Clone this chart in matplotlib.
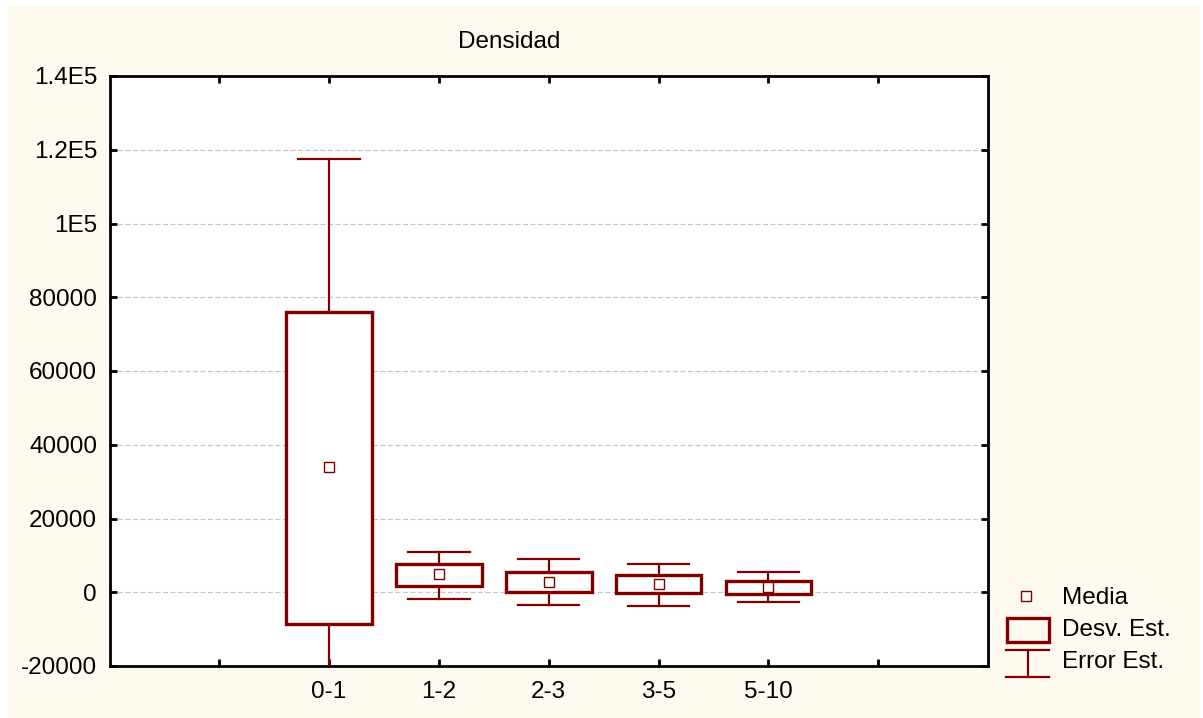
import matplotlib
matplotlib.use("Agg")
import matplotlib.pyplot as plt
from matplotlib.patches import Rectangle
from matplotlib.lines import Line2D

plt.rcParams['font.family'] = ['Liberation Sans', 'DejaVu Sans']

# data
categories = ["0-1", "1-2", "2-3", "3-5", "5-10"]
means = [34000, 5000, 2800, 2150, 1400]
box_low = [-8600, 1800, 0, -300, -550]
box_high = [76100, 7600, 5600, 4600, 3150]
whisk_low = [-49400, -1900, -3450, -3650, -2700]
whisk_high = [117400, 10900, 8950, 7700, 5600]

y_ticks = [-20000, 0, 20000, 40000, 60000, 80000, 100000, 120000, 140000]
y_labels = ["-20000", "0", "20000", "40000", "60000", "80000", "1E5", "1.2E5", "1.4E5"]

W, H = 1203, 718
red = "#800000"
cream = "#fefaef"
fs = 17.5

fig = plt.figure(figsize=(W / 100, H / 100), dpi=100)
fig.patch.set_facecolor("white")


def fx(px):
    return px / W


def fy(py):
    return 1 - py / H


# cream panel
fig.add_artist(Rectangle((fx(8), 0), fx(1200) - fx(8), fy(6), transform=fig.transFigure,
                         facecolor=cream, edgecolor="none", zorder=-10))

ax = fig.add_axes([fx(109.5), fy(666), fx(988) - fx(109.5), fy(76) - fy(666)])
ax.set_facecolor("white")

pos = list(range(2, 2 + len(categories)))
box_w = 0.78
cap_w = 0.56

for i, x in enumerate(pos):
    # whiskers
    ax.plot([x, x], [whisk_low[i], box_low[i]], color=red, lw=1.6, zorder=3)
    ax.plot([x, x], [box_high[i], whisk_high[i]], color=red, lw=1.6, zorder=3)
    ax.plot([x - cap_w / 2, x + cap_w / 2], [whisk_low[i]] * 2, color=red, lw=1.6, zorder=3)
    ax.plot([x - cap_w / 2, x + cap_w / 2], [whisk_high[i]] * 2, color=red, lw=1.6, zorder=3)
    # box
    ax.add_patch(Rectangle((x - box_w / 2, box_low[i]), box_w, box_high[i] - box_low[i],
                           facecolor="white", edgecolor=red, lw=2.4, zorder=4))
ax.plot(pos, means, linestyle="none", marker="s", markersize=6.5,
        markerfacecolor="white", markeredgecolor=red, markeredgewidth=1.0, zorder=5)

ax.set_xlim(0, 8)
ax.set_ylim(-20000, 140000)
ax.set_yticks(y_ticks)
ax.set_yticklabels(y_labels, fontsize=fs)
ax.set_xticks(range(1, 8))
ax.set_xticklabels([""] + categories + [""], fontsize=fs)

for y in y_ticks[1:-1]:
    ax.axhline(y, color="#c8c8c8", lw=0.9, ls=(0, (4, 2)), zorder=1)

for s in ax.spines.values():
    s.set_linewidth(2.0)
    s.set_color("black")
ax.tick_params(direction="in", length=5, width=2, top=True, right=True,
               labeltop=False, labelright=False)
ax.tick_params(axis="y", pad=9)
ax.tick_params(axis="x", pad=11)

fig.text(fx(509.5), fy(42), "Densidad", ha="center", va="center", fontsize=fs)

# legend drawn by hand
tf = fig.transFigure
fig.add_artist(Line2D([fx(1026)], [fy(595.5)], transform=tf, marker="s", markersize=6.5,
                      markerfacecolor="white", markeredgecolor=red, markeredgewidth=1.0,
                      linestyle="none"))
fig.add_artist(Rectangle((fx(1007), fy(642)), fx(1049) - fx(1007), fy(618) - fy(642),
                         transform=tf, facecolor="none", edgecolor=red, lw=2.4))
fig.add_artist(Line2D([fx(1006), fx(1049)], [fy(650), fy(650)], transform=tf, color=red, lw=1.6))
fig.add_artist(Line2D([fx(1006), fx(1049)], [fy(676.5), fy(676.5)], transform=tf, color=red, lw=1.6))
fig.add_artist(Line2D([fx(1027.5), fx(1027.5)], [fy(650), fy(676.5)], transform=tf, color=red, lw=1.6))
fig.text(fx(1062), fy(598), "Media", ha="left", va="center", fontsize=fs)
fig.text(fx(1062), fy(630), "Desv. Est.", ha="left", va="center", fontsize=fs)
fig.text(fx(1062), fy(662), "Error Est.", ha="left", va="center", fontsize=fs)

fig.savefig("out.png", dpi=100, facecolor=fig.get_facecolor())
